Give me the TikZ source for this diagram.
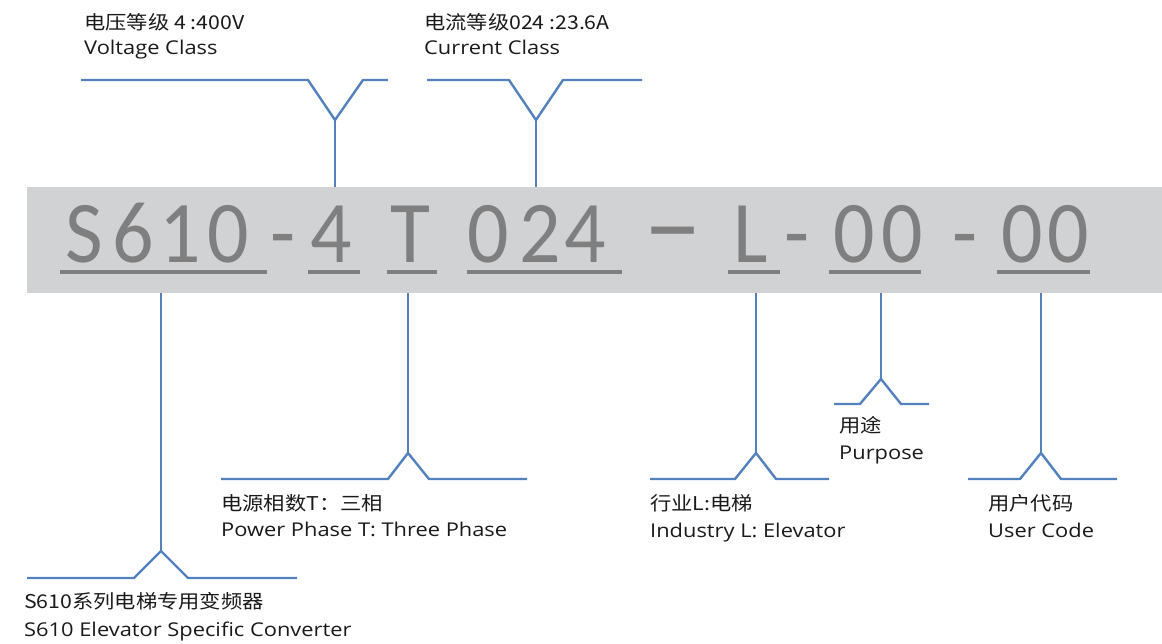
\documentclass[tikz,border=0pt]{standalone}
\usepackage{fontspec}
\setmainfont{Open Sans}[FakeStretch=1.15]
\newfontfamily\cjk{Noto Sans CJK SC}[FakeStretch=1.12]
\newfontfamily\bigfont{Carlito}[FakeStretch=0.93]
\definecolor{bandgray}{HTML}{D1D2D4}
\definecolor{codegray}{HTML}{7F7F7F}
\definecolor{lineblue}{HTML}{5381BD}
\definecolor{labeltext}{HTML}{1A1A1A}
\tikzset{
  conn/.style={draw=lineblue, line width=2.4pt, line join=miter},
  lbl/.style={anchor=base west, inner sep=0pt, text=labeltext, font=\fontsize{19}{23}\selectfont},
  lblzh/.style={lbl, font=\cjk\fontsize{19}{23}\selectfont},
  big/.style={anchor=base, inner sep=0pt, text=codegray, font=\bigfont\fontsize{88}{90}\selectfont},
  uline/.style={draw=codegray, line width=3.5pt}
}
\begin{document}
\begin{tikzpicture}[x=1pt,y=-1pt]
\useasboundingbox (0,0) rectangle (1162,644);
% band
\node[fill=bandgray, inner sep=0pt, minimum width=1135pt, minimum height=106pt, anchor=north west] (band) at (27,187) {};
% code characters
\foreach \c/\x [count=\i] in {S/84,6/133,1/180,0/228,-/283,4/331,T/410,0/488,2/540,4/585,{\scalebox{1.45}[1.3]{\textendash}}/673,L/751,-/797,0/854,0/902,-/965,0/1022,0/1068}
  \node[big] (c\i) at (\x,263) {\c};
% underlines
\draw[uline] (60,272) -- (267,272);
\draw[uline] (308,272) -- (360,272);
\draw[uline] (387,272) -- (437,272);
\draw[uline] (467,272) -- (622,272);
\draw[uline] (728,272) -- (780,272);
\draw[uline] (829,272) -- (921,272);
\draw[uline] (997,272) -- (1090,272);
% apex coordinates
\coordinate (av) at (335,120);
\coordinate (ac) at (536,120);
\coordinate (as) at (161,551);
\coordinate (at) at (408,453);
\coordinate (al) at (756,453);
\coordinate (ap) at (881,379);
\coordinate (au) at (1041,453);
% top brackets
\draw[conn] (81,80) -- (308,80) -- (av) -- (363,80) -- (388,80);
\draw[conn] (av) -- (av |- band.north);
\draw[conn] (427,80) -- (509,80) -- (ac) -- (563,80) -- (642,80);
\draw[conn] (ac) -- (ac |- band.north);
% bottom brackets
\draw[conn] (as |- band.south) -- (as);
\draw[conn] (27,578) -- (134,578) -- (as) -- (188,578) -- (297,578);
\draw[conn] (at |- band.south) -- (at);
\draw[conn] (221,479) -- (388,479) -- (at) -- (429,479) -- (527,479);
\draw[conn] (al |- band.south) -- (al);
\draw[conn] (650,479) -- (735,479) -- (al) -- (776,479) -- (829,479);
\draw[conn] (ap |- band.south) -- (ap);
\draw[conn] (834,404) -- (860,404) -- (ap) -- (901,404) -- (929,404);
\draw[conn] (au |- band.south) -- (au);
\draw[conn] (968,479) -- (1020,479) -- (au) -- (1061,479) -- (1117,479);
% labels
\node[lblzh] (v1) at (84,30) {电压等级 4 :400V};
\node[lbl] (v2) at (84,55) {Voltage Class};
\node[lblzh] (i1) at (424,30) {电流等级024 :23.6A};
\node[lbl] (i2) at (424,55) {Current Class};
\node[lblzh] (t1) at (221,510) {电源相数T：三相};
\node[lbl] (t2) at (221,536) {Power Phase T: Three Phase};
\node[lblzh] (s1) at (24,608) {S610系列电梯专用变频器};
\node[lbl] (s2) at (24,636) {S610 Elevator Specific Converter};
\node[lblzh] (l1) at (650,510) {行业L:电梯};
\node[lbl] (l2) at (650,537) {Industry L: Elevator};
\node[lblzh] (p1) at (839,432) {用途};
\node[lbl] (p2) at (839,459) {Purpose};
\node[lblzh] (u1) at (988,510) {用户代码};
\node[lbl] (u2) at (988,537) {User Code};
\end{tikzpicture}
\end{document}
